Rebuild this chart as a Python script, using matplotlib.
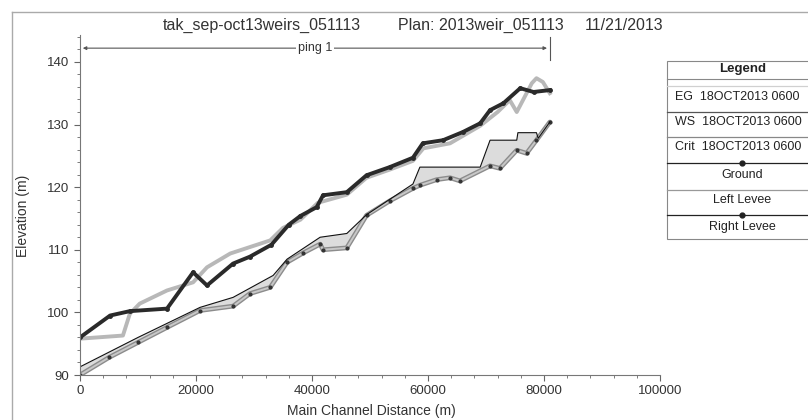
import matplotlib.pyplot as plt
import numpy as np
from matplotlib.lines import Line2D
from matplotlib.patches import Rectangle

plt.rcParams['font.family'] = ['Liberation Sans', 'DejaVu Sans']

# Right levee (dark upper line)
rlev_x = [0, 5200, 8600, 15000, 19500, 21900, 26400, 29300, 33000, 36000, 38000, 40800, 41900,
          46000, 49400, 53400, 57400, 59100, 62600, 66000, 69000, 70700, 73000, 75900, 78200, 81000]
rlev_y = [96.0, 99.5, 100.2, 100.6, 106.4, 104.3, 107.8, 108.9, 110.8, 114.0, 115.4, 116.8, 118.7,
          119.2, 121.9, 123.2, 124.7, 127.0, 127.5, 128.8, 130.2, 132.3, 133.4, 135.8, 135.2, 135.5]

# Left levee (light upper line)
llev_x = [0, 7400, 8600, 10300, 15000, 19500, 21900, 25900, 32800, 35000, 38000, 41000, 46000,
          49400, 53400, 57400, 59200, 63800, 69000, 72000, 74100, 75300, 77900, 78700, 79800, 81000]
llev_y = [95.8, 96.3, 99.8, 101.4, 103.5, 104.8, 107.2, 109.4, 111.5, 113.5, 114.8, 117.5, 118.8,
          121.5, 122.8, 124.2, 126.2, 127.0, 129.8, 132.0, 133.9, 132.0, 136.6, 137.4, 136.8, 135.0]

# Ground (main channel)
gr_x = [0, 5000, 10000, 15000, 20700, 26400, 29300, 32800, 35700, 38500, 41400, 41900, 46000,
        49400, 53400, 57400, 58600, 61500, 63800, 65500, 70700, 72400, 75300, 77000, 78700, 81000]
gr_y = [90.0, 92.8, 95.2, 97.6, 100.3, 101.0, 103.0, 104.0, 108.0, 109.5, 110.9, 110.0, 110.3,
        115.5, 117.8, 119.8, 120.3, 121.2, 121.5, 121.0, 123.4, 123.0, 125.9, 125.4, 127.5, 130.4]

# Water surface
ws_x = [0, 10000, 20700, 26400, 33300, 35700, 41400, 46000, 49400, 57400, 58600, 69000, 70700,
        75300, 75500, 78700, 79000, 81000]
ws_y = [91.3, 96.0, 100.8, 102.4, 105.9, 108.5, 112.0, 112.6, 115.6, 120.5, 123.2, 123.2, 127.5,
        127.5, 128.7, 128.7, 127.8, 130.4]

legend_rows = ['EG  18OCT2013 0600', 'WS  18OCT2013 0600', 'Crit  18OCT2013 0600',
               'Ground', 'Left Levee', 'Right Levee']

W, H = 808, 420
fig = plt.figure(figsize=(W / 100, H / 100), dpi=100)


def fx(px):
    return px / W


def fy(py):
    return 1 - py / H


ax = fig.add_axes([fx(80), fy(375), fx(660) - fx(80), fy(35) - fy(375)])

# water between ground and water surface
ax.fill(np.r_[ws_x, gr_x[::-1]], np.r_[ws_y, gr_y[::-1]], color='#dcdcdc', lw=0)
ax.plot(gr_x, gr_y, color='#8c8c8c', lw=3.4, solid_capstyle='round')
ax.plot(gr_x, gr_y, color='#c8c8c8', lw=1.4)
ax.plot(gr_x, gr_y, ls='none', marker='o', ms=2, color='#333333')
ax.plot(ws_x, ws_y, color='#111111', lw=0.8)

ax.plot(llev_x, llev_y, color='#b8b8b8', lw=2.8)
ax.plot(rlev_x, rlev_y, color='#2a2a2a', lw=2.8, marker='o', ms=2.5)

# reach annotation
ax.annotate('', xy=(0, 142.2), xytext=(81000, 142.2),
            arrowprops=dict(arrowstyle='<|-|>', color='#555555', lw=0.8, mutation_scale=5))
ax.plot([81000, 81000], [140.3, 144.0], color='#555555', lw=0.8, clip_on=False)
ax.text(40500, 142.2, 'ping 1', ha='center', va='center', fontsize=9, color='#333333',
        bbox=dict(facecolor='white', edgecolor='none', pad=1.5))

ax.set_xlim(0, 100000)
ax.set_ylim(90, 144.3)
ax.set_xticks(np.arange(0, 100001, 20000))
ax.set_xticks(np.arange(0, 100001, 4000), minor=True)
ax.set_yticks(np.arange(90, 141, 10))
ax.set_yticks(np.arange(90, 145, 2), minor=True)
ax.tick_params(which='both', direction='out', colors='#666666', labelcolor='#333333', labelsize=9.5)
ax.tick_params(which='major', length=4, width=0.8)
ax.tick_params(which='minor', length=2, width=0.6)
for s in ['top', 'right']:
    ax.spines[s].set_visible(False)
for s in ['left', 'bottom']:
    ax.spines[s].set_color('#777777')
    ax.spines[s].set_linewidth(0.8)

# titles and axis labels
fig.text(fx(163), fy(25), 'tak_sep-oct13weirs_051113', ha='left', va='center', fontsize=11.5, color='#333333')
fig.text(fx(398), fy(25), 'Plan: 2013weir_051113', ha='left', va='center', fontsize=11.5, color='#333333')
fig.text(fx(585), fy(25), '11/21/2013', ha='left', va='center', fontsize=11.5, color='#333333')
fig.text(fx(371), fy(411), 'Main Channel Distance (m)', ha='center', va='center', fontsize=10, color='#333333')
fig.text(fx(23), fy(216), 'Elevation (m)', ha='center', va='center', rotation=90, fontsize=10, color='#333333')

# outer frame
fig.add_artist(Line2D([fx(12), fx(12)], [fy(12), fy(420)], color='#aaaaaa', lw=1))
fig.add_artist(Line2D([fx(12), fx(808)], [fy(12), fy(12)], color='#aaaaaa', lw=1))

# legend box
fig.add_artist(Rectangle((fx(667), fy(239)), fx(160), fy(61) - fy(239), transform=fig.transFigure,
                         facecolor='white', edgecolor='#888888', lw=0.8))
fig.text(fx(743), fy(69), 'Legend', ha='center', va='center', fontsize=9.5, fontweight='bold', color='#222222')
fig.add_artist(Line2D([fx(667), fx(808)], [fy(79), fy(79)], color='#888888', lw=0.8))
sample_y = [86, 112, 137, 163, 190, 215]
sample_c = ['#d0d0d0', '#555555', '#888888', '#222222', '#999999', '#222222']
sample_m = [None, None, None, 'o', None, 'o']
for yy, cc, mm in zip(sample_y, sample_c, sample_m):
    fig.add_artist(Line2D([fx(667), fx(808)], [fy(yy), fy(yy)], color=cc, lw=0.9))
    if mm:
        fig.add_artist(Line2D([fx(742)], [fy(yy)], color=cc, marker=mm, ms=3.5, ls='none'))
text_y = [97, 122, 147, 175, 200, 227]
for i, (lab, yy) in enumerate(zip(legend_rows, text_y)):
    if i < 3:
        fig.text(fx(675), fy(yy), lab, ha='left', va='center', fontsize=9, color='#222222')
    else:
        fig.text(fx(742), fy(yy), lab, ha='center', va='center', fontsize=9, color='#222222')

fig.savefig('out.png', dpi=100)
